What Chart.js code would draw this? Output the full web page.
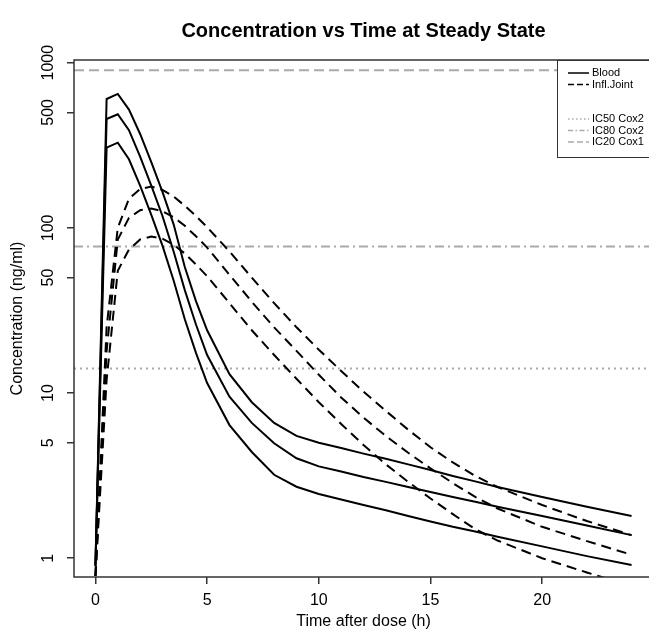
<!DOCTYPE html>
<html><head><meta charset="utf-8">
<script src="https://cdn.jsdelivr.net/npm/chart.js@4.4.1/dist/chart.umd.min.js"></script>
<style>html,body{margin:0;padding:0;overflow:hidden;background:#fff}</style>
</head><body>
<canvas id="c" width="657" height="636"></canvas>
<script>
// ---- data ----
const timeH     = [0, 0.5, 1, 1.5, 2, 2.5, 3, 3.5, 4, 4.5, 5, 6, 7, 8, 9, 10, 11, 12, 13, 14, 15, 16, 17, 18, 20, 22, 24];
const bloodHigh = [0.9, 603, 647, 520, 370, 250, 165, 105, 58, 36, 24, 13, 8.8, 6.6, 5.5, 5.0, 4.65, 4.3, 4.0, 3.7, 3.42, 3.15, 2.92, 2.7, 2.35, 2.05, 1.8];
const bloodMid  = [0.9, 456, 487, 390, 270, 180, 118, 72, 42, 26, 17, 9.5, 6.6, 4.97, 4.03, 3.6, 3.35, 3.1, 2.9, 2.7, 2.52, 2.35, 2.2, 2.05, 1.8, 1.58, 1.38];
const bloodLow  = [0.9, 306, 328, 260, 180, 120, 78, 48, 28, 17.5, 11.5, 6.4, 4.4, 3.2, 2.71, 2.45, 2.27, 2.1, 1.95, 1.8, 1.67, 1.55, 1.45, 1.35, 1.18, 1.03, 0.91];
const jointHigh = [0.78, 25, 100, 150, 172, 178, 170, 155, 136, 118, 101, 72, 50, 35, 25, 18.3, 13.6, 10.2, 7.8, 6.0, 4.7, 3.8, 3.15, 2.7, 2.1, 1.68, 1.38];
const jointMid  = [0.78, 18, 85, 115, 128, 131, 126, 116, 103, 89, 76, 52, 35.7, 25, 18, 12.9, 9.4, 7.1, 5.5, 4.35, 3.5, 2.85, 2.35, 2.0, 1.55, 1.27, 1.05];
const jointLow  = [0.78, 12, 55, 74, 85, 88.5, 86, 79, 70, 60, 51, 35, 24, 17, 12.2, 8.8, 6.5, 4.85, 3.7, 2.9, 2.3, 1.85, 1.5, 1.28, 1.0, 0.82, 0.68];
const icNames   = ['IC50 Cox2', 'IC80 Cox2', 'IC20 Cox1'];
const icLevels  = [14.1, 77, 900];
const xTicks    = [0, 5, 10, 15, 20];
const yTicks    = [1, 5, 10, 50, 100, 500, 1000];
const seriesNames = ['Blood', 'Infl.Joint'];
const titleText = 'Concentration vs Time at Steady State';
const xTitle = 'Time after dose (h)';
const yTitle = 'Concentration (ng/ml)';

// ---- styling ----
const FONT = '"Liberation Sans", Arial, Helvetica, sans-serif';
const X_MIN = -0.96, X_MAX = 24.96;
const Y_MIN = 0.77, Y_MAX = 1038;
const icDash = [[2, 4], [9, 4, 2, 4], [10, 5]];
const IC_COLOR = '#aaaaaa';
const JOINT_DASH = [10, 6];

const pts = arr => timeH.map((t, i) => ({x: t, y: arr[i]}));
const curve = (arr, dash) => ({data: pts(arr), borderColor: '#000', borderWidth: 2, borderDash: dash, pointRadius: 0, tension: 0, fill: false});

const datasets = [
  curve(bloodHigh, []), curve(bloodMid, []), curve(bloodLow, []),
  curve(jointHigh, JOINT_DASH), curve(jointMid, JOINT_DASH), curve(jointLow, JOINT_DASH),
  ...icLevels.map((v, i) => ({data: [{x: X_MIN, y: v}, {x: X_MAX, y: v}], borderColor: IC_COLOR, borderWidth: 2, borderDash: icDash[i], pointRadius: 0, tension: 0, fill: false}))
];

const decor = {
  id: 'decor',
  beforeDraw(chart) {
    const c = chart.ctx; c.save(); c.fillStyle = '#fff'; c.fillRect(0, 0, chart.width, chart.height); c.restore();
  },
  afterDraw(chart) {
    const ctx = chart.ctx, a = chart.chartArea;
    ctx.save();
    // legend
    const lx = 557, ly = a.top, lh = 97;
    ctx.fillStyle = '#fff'; ctx.fillRect(lx, ly, a.right - lx, lh);
    ctx.strokeStyle = '#333'; ctx.lineWidth = 1; ctx.setLineDash([]);
    ctx.strokeRect(lx + 0.5, ly + 0.5, a.right - lx, lh);
    const entries = [
      {label: seriesNames[0], color: '#000', dash: [], y: 73},
      {label: seriesNames[1], color: '#000', dash: [6, 3], y: 84.5},
      {label: icNames[0], color: IC_COLOR, dash: [1.5, 2.5], y: 119},
      {label: icNames[1], color: IC_COLOR, dash: [5, 2.5, 1.5, 2.5], y: 130.5},
      {label: icNames[2], color: IC_COLOR, dash: [6, 3], y: 142}
    ];
    ctx.font = '11px ' + FONT; ctx.textAlign = 'left'; ctx.textBaseline = 'middle';
    for (const e of entries) {
      ctx.strokeStyle = e.color; ctx.lineWidth = 1.5; ctx.setLineDash(e.dash);
      ctx.beginPath(); ctx.moveTo(568, e.y); ctx.lineTo(589, e.y); ctx.stroke();
      ctx.fillStyle = '#000'; ctx.fillText(e.label, 592, e.y);
    }
    ctx.setLineDash([]);
    // box
    ctx.strokeStyle = '#333'; ctx.lineWidth = 1.5;
    ctx.strokeRect(a.left, a.top, a.right - a.left, a.bottom - a.top);
    // titles
    const cx = (a.left + a.right) / 2;
    ctx.fillStyle = '#000'; ctx.textAlign = 'center';
    ctx.font = 'bold 20px ' + FONT; ctx.textBaseline = 'alphabetic';
    ctx.fillText(titleText, cx, 37);
    ctx.font = '16px ' + FONT; ctx.textBaseline = 'middle';
    ctx.fillText(xTitle, cx, 622);
    ctx.translate(18, (a.top + a.bottom) / 2); ctx.rotate(-Math.PI / 2);
    ctx.fillText(yTitle, 0, 0);
    ctx.restore();
  }
};

new Chart(document.getElementById('c'), {
  type: 'line',
  data: {datasets},
  plugins: [decor],
  options: {
    responsive: false, animation: false, devicePixelRatio: 1,
    layout: {padding: {top: 60, right: 4, left: 0, bottom: 0}},
    plugins: {legend: {display: false}, title: {display: false}, tooltip: {enabled: false}},
    elements: {point: {radius: 0}, line: {tension: 0}},
    scales: {
      x: {
        type: 'linear', min: X_MIN, max: X_MAX,
        afterBuildTicks: s => { s.ticks = xTicks.map(v => ({value: v})); },
        afterFit: s => { s.height = 59; },
        grid: {drawOnChartArea: false, drawTicks: true, tickLength: 7, color: '#333', lineWidth: 1.5},
        border: {display: false},
        ticks: {color: '#000', font: {family: FONT, size: 16}, padding: 7, maxRotation: 0, autoSkip: false, callback: v => String(v)}
      },
      y: {
        type: 'logarithmic', min: Y_MIN, max: Y_MAX,
        afterBuildTicks: s => { s.ticks = yTicks.map(v => ({value: v})); },
        afterFit: s => { s.width = 74; },
        grid: {drawOnChartArea: false, drawTicks: true, tickLength: 7, color: '#333', lineWidth: 1.5},
        border: {display: false},
        ticks: {color: '#000', font: {family: FONT, size: 16}, padding: 1, minRotation: 90, maxRotation: 90, crossAlign: 'center', autoSkip: false, callback: v => String(v)}
      }
    }
  }
});
</script>
</body></html>
